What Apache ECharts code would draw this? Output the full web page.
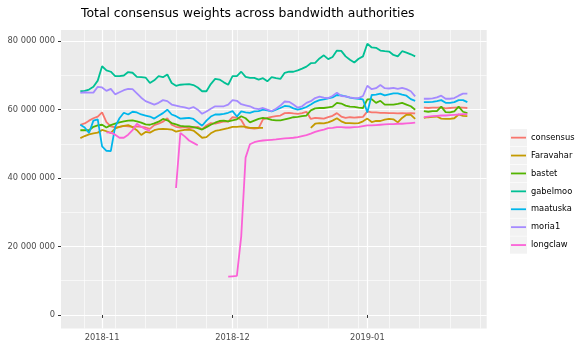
<!DOCTYPE html>
<html><head><meta charset="utf-8">
<script src="https://cdn.jsdelivr.net/npm/echarts@6/dist/echarts.min.js"></script>
<style>html,body{margin:0;padding:0;background:#fff}#c{width:581px;height:356px}</style>
</head><body><div id="c"></div>
<script>
// ---- data (values in millions), one value per day starting at startDate ----
const startDate = [2018, 9, 27]; // 2018-10-27 (month is 0-based)
const dayCount = 90;
const seriesNames = ['consensus', 'Faravahar', 'bastet', 'gabelmoo', 'maatuska', 'moria1', 'longclaw'];
const seriesColors = ['#F8766D', '#C49A00', '#53B400', '#00C094', '#00B6EB', '#A58AFF', '#FB61D7'];
const _ = null;
const consensus = [55.6,56.0,56.8,57.5,58.0,
 59.2,56.4,55.1,54.8,55.0,55.3,55.1,55.0,55.1,55.0,
 54.8,54.4,55.5,55.9,56.5,57.5,55.6,55.0,54.8,54.9,
 54.6,54.8,55.0,54.3,55.4,56.1,55.9,56.2,56.6,56.5,
 57.8,57.7,57.0,54.8,54.6,54.5,54.6,57.2,57.6,57.9,
 58.1,58.3,59.0,59.1,58.9,58.8,59.0,59.4,57.3,57.6,
 57.5,57.4,57.8,58.2,59.0,58.0,57.6,57.8,57.7,57.8,
 57.9,59.5,59.2,59.2,59.1,59.1,59.0,59.0,58.9,59.0,
 58.9,59.0,58.9,_,60.6,60.5,60.6,60.6,60.7,60.4,
 60.5,60.6,60.7,60.6,60.5];
const faravahar = [51.7,52.3,52.8,53.1,53.3,
 54.1,53.7,53.2,54.5,55.0,55.3,55.5,54.9,54.0,52.6,
 53.5,53.3,54.0,54.3,54.4,54.3,54.2,53.6,53.9,54.1,
 54.2,53.9,52.9,51.8,52.0,53.1,53.8,54.0,54.3,54.6,
 55.0,55.0,55.1,55.0,54.7,54.7,54.7,54.7,_,_,
 _,_,_,_,_,_,_,_,54.7,55.9,
 56.1,56.0,56.3,56.8,57.5,56.6,56.1,56.1,56.0,56.1,
 56.6,57.4,56.4,56.7,56.7,57.1,57.3,57.2,56.3,57.6,
 58.5,58.5,57.3,_,57.6,57.8,57.9,58.0,57.4,57.3,
 57.3,57.5,58.6,58.2,58.1];
const bastet = [54.0,54.0,54.0,55.0,55.4,
 55.6,54.8,55.5,55.9,56.3,56.6,56.8,56.9,56.6,56.2,
 55.7,55.6,56.0,56.5,57.3,56.9,56.1,55.7,55.3,55.1,
 55.1,54.9,54.6,54.2,54.9,55.6,56.2,56.7,56.8,56.6,
 56.9,57.2,58.1,57.5,56.3,56.8,57.3,57.6,57.4,57.0,
 56.9,56.9,57.2,57.5,57.8,57.9,58.1,58.3,59.8,60.4,
 60.5,60.5,60.7,60.9,62.0,61.8,61.2,60.9,60.8,60.6,
 60.5,63.0,63.1,62.0,62.6,61.5,61.5,61.5,61.7,62.0,
 61.5,61.0,60.0,_,59.6,59.4,59.6,59.6,60.9,59.3,
 59.2,59.5,60.9,59.4,59.0];
const gabelmoo = [65.4,65.5,65.9,66.7,68.5,
 72.7,71.5,71.1,69.8,69.8,70.0,71.0,70.8,69.6,69.5,
 69.4,67.8,68.6,69.8,69.5,70.3,67.8,67.0,67.3,67.4,
 67.5,67.2,66.5,65.4,65.4,67.5,69.0,68.8,68.0,67.3,
 69.8,69.8,71.1,69.6,69.3,69.3,68.8,69.2,68.3,69.5,
 69.2,69.0,70.8,71.1,71.1,71.5,72.0,72.6,73.6,73.7,
 75.0,75.9,74.8,75.4,77.3,77.2,75.6,74.6,73.8,74.9,
 75.6,79.3,78.2,78.1,77.3,77.1,77.0,76.0,75.6,77.1,
 76.7,76.2,75.6,_,_,_,_,_,_,_,
 _,_,_,_,_];
const maatuska = [55.6,54.8,53.2,56.8,57.2,
 49.3,48.0,47.9,55.0,57.5,59.1,58.6,59.4,59.2,58.6,
 58.3,58.0,57.4,58.2,59.0,60.0,58.6,58.1,57.4,57.5,
 57.6,57.3,56.3,55.3,56.8,58.0,58.6,58.6,58.8,59.1,
 59.6,58.0,59.5,59.2,59.1,59.5,59.6,60.0,59.8,59.5,
 60.0,60.5,61.1,61.0,60.4,60.0,60.3,60.8,61.5,62.3,
 62.8,63.0,63.3,63.6,64.3,64.2,63.9,63.5,63.3,63.2,
 63.0,59.2,64.3,64.4,64.7,64.2,64.5,64.8,64.8,64.4,
 64.1,63.1,62.6,_,62.2,62.2,62.3,62.5,62.8,62.0,
 62.0,62.2,62.8,62.8,62.2];
const moria1 = [64.9,65.1,65.0,65.0,66.7,
 66.5,65.5,66.1,64.5,65.1,65.7,66.1,66.0,64.8,63.5,
 62.5,62.0,61.5,62.0,62.8,62.5,61.5,61.2,60.9,60.7,
 60.3,60.8,60.0,58.8,59.5,60.3,61.0,61.0,61.0,61.5,
 62.8,62.6,61.6,61.3,61.0,60.4,60.2,60.5,60.0,59.6,
 60.3,61.2,62.4,62.3,61.5,60.6,61.0,62.0,62.5,63.4,
 63.8,63.5,63.4,64.0,65.0,64.0,63.9,63.6,63.4,63.4,
 64.0,67.0,66.0,66.3,67.2,66.3,66.2,66.4,66.1,66.4,
 66.0,65.4,63.9,_,63.2,63.2,63.3,63.6,64.1,63.2,
 63.2,63.4,64.1,64.7,64.7];
const longclaw = [_,_,_,_,_,
 _,53.4,53.3,52.7,51.8,51.8,52.7,54.0,55.9,55.0,
 54.3,53.8,_,_,_,_,_,37.1,53.2,52.2,
 51.0,50.3,49.6,_,_,_,_,_,_,11.2,
 11.3,11.4,23.0,46.0,49.9,50.5,50.8,51.0,51.1,51.2,
 51.3,51.5,51.6,51.7,51.8,52.0,52.3,52.6,53.0,53.5,
 53.9,54.2,54.6,54.7,54.9,54.9,54.8,54.8,54.9,55.0,
 55.2,55.4,55.4,55.5,55.6,55.7,55.8,55.8,55.9,55.9,
 56.0,56.1,56.2,_,57.8,58.0,58.1,58.2,58.3,58.3,
 58.4,58.5,58.6,58.7,58.7];
const seriesValues = [consensus, faravahar, bastet, gabelmoo, maatuska, moria1, longclaw];

const xMajorTicks = ['2018-11-01', '2018-12-01', '2019-01-01'];
const xMinorTicks = ['2018-10-28','2018-11-04','2018-11-11','2018-11-18','2018-11-25','2018-12-02','2018-12-09',
  '2018-12-16','2018-12-23','2018-12-30','2019-01-06','2019-01-13','2019-01-20','2019-01-27'];
const yMajorTicks = [0, 20e6, 40e6, 60e6, 80e6];
const yMinorTicks = [10e6, 30e6, 50e6, 70e6];
const titleText = 'Total consensus weights across bandwidth authorities';

// ---- build ----
const DAY = 86400000;
const t0 = Date.UTC(startDate[0], startDate[1], startDate[2]);
const dates = Array.from({length: dayCount}, (v, i) => t0 + i * DAY);
const parseDate = s => { const p = s.split('-').map(Number); return Date.UTC(p[0], p[1] - 1, p[2]); };
const xMaj = xMajorTicks.map(parseDate);
const xMin = xMinorTicks.map(parseDate);
const span = dates[dates.length - 1] - dates[0];
const xLo = dates[0] - 0.05 * span, xHi = dates[dates.length - 1] + 0.05 * span;
const yLo = -3.96e6, yHi = 83.3e6;
const fmtNum = v => String(Math.round(v)).replace(/\B(?=(\d{3})+(?!\d))/g, ' ');
const fmtMonth = v => { const d = new Date(v); return d.getUTCFullYear() + '-' + String(d.getUTCMonth() + 1).padStart(2, '0'); };
const FONT = 'DejaVu Sans';
const SMALL = 8.3;
const KEY_H = 17.3;

const series = seriesNames.map((name, k) => ({
  name, type: 'line', xAxisIndex: 0, yAxisIndex: 0,
  symbol: 'none', showSymbol: false, connectNulls: false, silent: true,
  color: seriesColors[k],
  itemStyle: { color: seriesColors[k] },
  lineStyle: { width: 1.8, color: seriesColors[k] },
  data: seriesValues[k].map((v, i) => [dates[i], v == null ? null : v * 1e6])
}));

const chart = echarts.init(document.getElementById('c'), null, { renderer: 'canvas' });
chart.setOption({
  animation: false,
  backgroundColor: '#ffffff',
  textStyle: { fontFamily: FONT },
  title: { text: titleText, left: 76, top: 3,
    textStyle: { fontSize: 12.4, fontWeight: 'normal', color: '#000', fontFamily: FONT } },
  grid: { left: 61, right: 94.3, top: 30, bottom: 27.5, show: true, backgroundColor: '#EBEBEB', borderWidth: 0, containLabel: false, outerBoundsMode: 'none' },
  xAxis: [{
    type: 'value', min: xLo, max: xHi, position: 'bottom',
    axisLine: { show: false },
    axisTick: { show: true, length: 3, lineStyle: { color: '#333', width: 1 }, customValues: xMaj },
    axisLabel: { customValues: xMaj, formatter: fmtMonth, fontSize: SMALL, color: '#4D4D4D', margin: 5, fontFamily: FONT },
    splitLine: { show: true, lineStyle: { color: '#FFFFFF', width: 1.2 } }
  }, {
    type: 'value', min: xLo, max: xHi, position: 'top',
    axisLine: { show: false },
    axisTick: { show: false, customValues: xMin },
    axisLabel: { show: false, customValues: xMin },
    splitLine: { show: true, lineStyle: { color: '#FFFFFF', width: 0.6 } }
  }],
  yAxis: [{
    type: 'value', min: yLo, max: yHi, position: 'left',
    axisLine: { show: false },
    axisTick: { show: true, length: 3, lineStyle: { color: '#333', width: 1 }, customValues: yMajorTicks },
    axisLabel: { customValues: yMajorTicks, formatter: fmtNum, fontSize: SMALL, color: '#4D4D4D', margin: 6, fontFamily: FONT },
    splitLine: { show: true, lineStyle: { color: '#FFFFFF', width: 1.2 } }
  }, {
    type: 'value', min: yLo, max: yHi, position: 'right',
    axisLine: { show: false },
    axisTick: { show: false, customValues: yMinorTicks },
    axisLabel: { show: false, customValues: yMinorTicks },
    splitLine: { show: true, lineStyle: { color: '#FFFFFF', width: 0.6 } }
  }],
  legend: [{
    orient: 'vertical', left: 505, top: 124, icon: 'rect',
    itemWidth: 17, itemHeight: KEY_H, itemGap: 0.6,
    itemStyle: { color: '#F2F2F2', borderWidth: 0 },
    formatter: () => '', selectedMode: false,
    textStyle: { fontSize: SMALL }
  }, {
    orient: 'vertical', left: 506, top: 124,
    icon: 'path://M0,0M0,7.75H15V9.55H0ZM15,17.3',
    itemWidth: 15, itemHeight: KEY_H, itemGap: 0.6, selectedMode: false,
    itemStyle: { borderWidth: 0 },
    textStyle: { fontSize: SMALL, color: '#000', fontFamily: FONT, lineHeight: KEY_H, height: KEY_H }
  }],
  series
});
</script></body></html>
